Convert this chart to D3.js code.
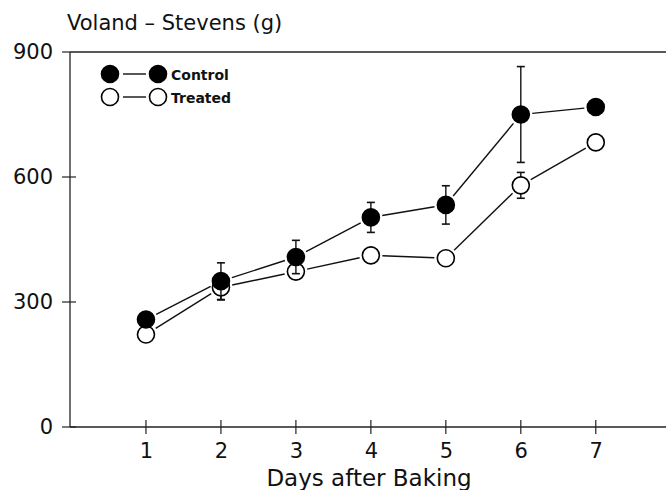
<!DOCTYPE html>
<html>
<head>
<meta charset="utf-8">
<script src="https://cdn.jsdelivr.net/npm/d3@7"></script>
<style>
body { margin: 0; background: #fff; }
text { font-family: "DejaVu Sans", sans-serif; fill: #111; }
</style>
</head>
<body>
<script>
var days = [1, 2, 3, 4, 5, 6, 7];
var control = [258, 350, 408, 503, 533, 750, 768];
var controlErr = [5, 44, 40, 36, 46, 115, 5];
var treated = [222, 335, 373, 412, 405, 580, 683];
var treatedErr = [5, 30, 12, 5, 5, 31, 5];
var yTicks = [0, 300, 600, 900];

var width = 666, height = 490;
var r = 8.5;

var xScale = d3.scaleLinear().domain([0, 7.95]).range([71, 667]);
var yScale = d3.scaleLinear().domain([0, 900]).range([427, 52]);

var svg = d3.select("body").append("svg")
    .attr("width", width)
    .attr("height", height);

// axes
var xAxis = d3.axisBottom(xScale).tickValues(days).tickSize(0).tickPadding(16).tickFormat(d3.format("d"));
var yAxis = d3.axisLeft(yScale).tickValues(yTicks).tickSize(0).tickPadding(17);

var gx = svg.append("g").attr("transform", "translate(0," + yScale(0) + ")").call(xAxis);
var gy = svg.append("g").attr("transform", "translate(70,0)").call(yAxis);
gx.select(".domain").remove();
gy.select(".domain").remove();
svg.selectAll(".tick text").style("font-size", "21px").style("font-family", "DejaVu Sans").attr("fill", "#111");

// frame lines
svg.append("line").attr("x1", 70).attr("x2", 666).attr("y1", yScale(0)).attr("y2", yScale(0)).attr("stroke", "#222").attr("stroke-width", 1.3);
svg.append("line").attr("x1", 70).attr("x2", 666).attr("y1", yScale(900)).attr("y2", yScale(900)).attr("stroke", "#222").attr("stroke-width", 1.3);
svg.append("line").attr("x1", 70).attr("x2", 70).attr("y1", yScale(900)).attr("y2", yScale(0)).attr("stroke", "#222").attr("stroke-width", 1.3);

// crossing ticks
svg.append("g").selectAll("line").data(days).enter().append("line")
    .attr("x1", function(d) { return xScale(d); })
    .attr("x2", function(d) { return xScale(d); })
    .attr("y1", yScale(0) - 7).attr("y2", yScale(0) + 7)
    .attr("stroke", "#222").attr("stroke-width", 1.2);
svg.append("g").selectAll("line").data(yTicks).enter().append("line")
    .attr("x1", 62).attr("x2", function(d) { return d == 900 ? 70 : 76; })
    .attr("y1", function(d) { return yScale(d); })
    .attr("y2", function(d) { return yScale(d); })
    .attr("stroke", "#222").attr("stroke-width", 1.2);

// titles
svg.append("text").attr("x", 67).attr("y", 30).style("font-size", "21px").text("Voland \u2013 Stevens (g)");
svg.append("text").attr("x", 369).attr("y", 486).attr("text-anchor", "middle").style("font-size", "23px").text("Days after Baking");

function drawSeries(vals, errs, filled) {
    var pts = days.map(function(d, i) { return [xScale(d), yScale(vals[i])]; });
    var g = svg.append("g");
    // connecting segments with gaps at markers
    for (var i = 0; i < pts.length - 1; i++) {
        var a = pts[i], b = pts[i + 1];
        var dx = b[0] - a[0], dy = b[1] - a[1], len = Math.sqrt(dx * dx + dy * dy);
        var gap = r + 3;
        g.append("line")
            .attr("x1", a[0] + dx / len * gap).attr("y1", a[1] + dy / len * gap)
            .attr("x2", b[0] - dx / len * gap).attr("y2", b[1] - dy / len * gap)
            .attr("stroke", "#111").attr("stroke-width", 1.4);
    }
    // error bars
    days.forEach(function(d, i) {
        var x = xScale(d), lo = yScale(vals[i] - errs[i]), hi = yScale(vals[i] + errs[i]);
        g.append("line").attr("x1", x).attr("x2", x).attr("y1", hi).attr("y2", lo).attr("stroke", "#111").attr("stroke-width", 1.4);
        g.append("line").attr("x1", x - 4).attr("x2", x + 4).attr("y1", hi).attr("y2", hi).attr("stroke", "#111").attr("stroke-width", 1.6);
        g.append("line").attr("x1", x - 4).attr("x2", x + 4).attr("y1", lo).attr("y2", lo).attr("stroke", "#111").attr("stroke-width", 1.6);
    });
    g.selectAll("circle").data(pts).enter().append("circle")
        .attr("cx", function(p) { return p[0]; })
        .attr("cy", function(p) { return p[1]; })
        .attr("r", r)
        .attr("fill", filled ? "#000" : "#fff")
        .attr("stroke", "#000").attr("stroke-width", 1.6);
}

drawSeries(treated, treatedErr, false);
drawSeries(control, controlErr, true);

// legend
var legend = [["Control", true], ["Treated", false]];
var lg = svg.append("g").selectAll("g").data(legend).enter().append("g")
    .attr("transform", function(d, i) { return "translate(0," + (74 + i * 23) + ")"; });
lg.append("line").attr("x1", 123).attr("x2", 146).attr("y1", 0).attr("y2", 0).attr("stroke", "#111").attr("stroke-width", 1.4);
lg.append("circle").attr("cx", 110).attr("cy", 0).attr("r", r).attr("fill", function(d) { return d[1] ? "#000" : "#fff"; }).attr("stroke", "#000").attr("stroke-width", 1.6);
lg.append("circle").attr("cx", 158).attr("cy", 0).attr("r", r).attr("fill", function(d) { return d[1] ? "#000" : "#fff"; }).attr("stroke", "#000").attr("stroke-width", 1.6);
lg.append("text").attr("x", 171).attr("y", 6).style("font-size", "14px").style("font-weight", "600").text(function(d) { return d[0]; });
</script>
</body>
</html>
